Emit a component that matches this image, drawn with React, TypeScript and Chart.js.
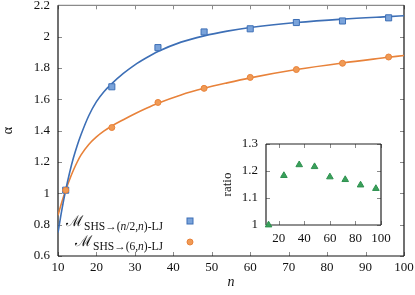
import React, { useEffect, useRef } from "react";
import { Chart, registerables } from "chart.js";

Chart.register(...registerables);

const FONT = "'Liberation Serif', 'Times New Roman', serif";

// Main plot data
const nValues = [12, 24, 36, 48, 60, 72, 84, 96];
const alphaHalfN = [1.02, 1.68, 1.93, 2.03, 2.05, 2.09, 2.1, 2.12];
const alphaSixN = [1.02, 1.42, 1.58, 1.67, 1.74, 1.79, 1.83, 1.87];

// Fitted curves
const fitN = [10, 11, 12, 13, 14, 15, 16, 18, 20, 22, 24, 27, 30, 33, 36, 42, 48, 54, 60, 72, 84, 96, 100];
const fitHalfN = [0.75, 0.895, 1.02, 1.13, 1.225, 1.305, 1.375, 1.495, 1.585, 1.65, 1.7, 1.765, 1.82, 1.865, 1.905, 1.965, 2.005, 2.035, 2.058, 2.09, 2.112, 2.128, 2.133];
const fitSixN = [0.86, 0.945, 1.02, 1.087, 1.147, 1.2, 1.245, 1.312, 1.36, 1.398, 1.43, 1.47, 1.508, 1.543, 1.575, 1.628, 1.67, 1.705, 1.737, 1.79, 1.832, 1.868, 1.88];

// Inset data
const ratioValues = [1.0, 1.183, 1.223, 1.216, 1.178, 1.168, 1.148, 1.135];

// Tick labels
const xTicksMain = [10, 20, 30, 40, 50, 60, 70, 80, 90, 100];
const yTicksMain = [0.6, 0.8, 1, 1.2, 1.4, 1.6, 1.8, 2, 2.2];
const xTicksInset = [20, 40, 60, 80, 100];
const yTicksInset = [1, 1.1, 1.2, 1.3];

// Axis titles & legend text
const xTitle = "n";
const yTitle = "α";
const insetYTitle = "ratio";
const legendHalf: [string, string][] = [["ℳ", "M"], ["SHS→(", "s"], ["n", "si"], ["/2,", "s"], ["n", "si"], [")-LJ", "s"]];
const legendSix: [string, string][] = [["ℳ", "M"], ["SHS→(6,", "s"], ["n", "si"], [")-LJ", "s"]];

const BLUE = "#3d6fb6";
const BLUE_FILL = "#7aa3da";
const ORANGE = "#e8823a";
const ORANGE_FILL = "#f09a55";
const GREEN = "#2e9150";
const GREEN_FILL = "#3aa05a";

function makeFrame(xt: number[], yt: number[], colors: { top: string; right: string; bottom: string; left: string }) {
  return {
    id: "frame",
    beforeDatasetsDraw(chart: any) {
      const { ctx, chartArea: a, scales } = chart;
      const sx = scales.x;
      const sy = scales.y;
      ctx.save();
      ctx.lineWidth = 1;
      ctx.strokeStyle = "#8a8a8a";
      ctx.beginPath();
      const L = 4;
      for (const v of xt) {
        const p = Math.round(sx.getPixelForValue(v)) + 0.5;
        ctx.moveTo(p, a.bottom);
        ctx.lineTo(p, a.bottom - L);
        ctx.moveTo(p, a.top);
        ctx.lineTo(p, a.top + L);
      }
      for (const v of yt) {
        const p = Math.round(sy.getPixelForValue(v)) + 0.5;
        ctx.moveTo(a.left, p);
        ctx.lineTo(a.left + L, p);
        ctx.moveTo(a.right, p);
        ctx.lineTo(a.right - L, p);
      }
      ctx.stroke();
      ctx.lineWidth = 1.2;
      const seg = (c: string, x1: number, y1: number, x2: number, y2: number) => {
        ctx.strokeStyle = c;
        ctx.beginPath();
        ctx.moveTo(x1, y1);
        ctx.lineTo(x2, y2);
        ctx.stroke();
      };
      seg(colors.top, a.left, a.top, a.right, a.top);
      seg(colors.bottom, a.left, a.bottom, a.right, a.bottom);
      seg(colors.left, a.left, a.top, a.left, a.bottom);
      seg(colors.right, a.right, a.top, a.right, a.bottom);
      ctx.restore();
    },
  };
}

function fontFor(kind: string) {
  if (kind === "M") return `15px 'DejaVu Serif', ${FONT}`;
  if (kind === "si") return `italic 11.5px ${FONT}`;
  return `11.5px ${FONT}`;
}

function drawLegendEntry(ctx: CanvasRenderingContext2D, parts: [string, string][], right: number, base: number) {
  let total = 0;
  const widths = parts.map(([t, k]) => {
    ctx.font = fontFor(k);
    const w = ctx.measureText(t).width + (k === "M" ? 1 : 0);
    total += w;
    return w;
  });
  let x = right - total;
  ctx.fillStyle = "#111";
  ctx.textBaseline = "alphabetic";
  ctx.textAlign = "left";
  parts.forEach(([t, k], i) => {
    ctx.font = fontFor(k);
    ctx.fillText(t, x, k === "M" ? base : base + 4);
    x += widths[i];
  });
}

const legendPlugin = {
  id: "mathLegend",
  afterDraw(chart: any) {
    const ctx: CanvasRenderingContext2D = chart.ctx;
    ctx.save();
    drawLegendEntry(ctx, legendHalf, 163, 226);
    drawLegendEntry(ctx, legendSix, 163, 246);
    // markers
    ctx.lineWidth = 1;
    ctx.fillStyle = BLUE_FILL;
    ctx.strokeStyle = BLUE;
    ctx.fillRect(187, 218, 6, 6);
    ctx.strokeRect(187, 218, 6, 6);
    ctx.fillStyle = ORANGE_FILL;
    ctx.strokeStyle = ORANGE;
    ctx.beginPath();
    ctx.arc(190, 242, 3, 0, Math.PI * 2);
    ctx.fill();
    ctx.stroke();
    ctx.restore();
  },
};

export default function App() {
  const mainRef = useRef<HTMLCanvasElement>(null);
  const insetRef = useRef<HTMLCanvasElement>(null);

  useEffect(() => {
    const tickFont = { family: FONT, size: 13 };
    const main = new Chart(mainRef.current as HTMLCanvasElement, {
      type: "scatter",
      data: {
        datasets: [
          {
            data: nValues.map((n, i) => ({ x: n, y: alphaSixN[i] })),
            pointStyle: "circle",
            pointRadius: 3,
            backgroundColor: ORANGE_FILL,
            borderColor: ORANGE,
            borderWidth: 1,
            order: 0,
          },
          {
            data: nValues.map((n, i) => ({ x: n, y: alphaHalfN[i] })),
            pointStyle: "rect",
            pointRadius: 4.3,
            backgroundColor: BLUE_FILL,
            borderColor: BLUE,
            borderWidth: 1,
            order: 1,
          },
          {
            data: fitN.map((n, i) => ({ x: n, y: fitHalfN[i] })),
            showLine: true,
            pointRadius: 0,
            borderColor: BLUE,
            borderWidth: 1.6,
            cubicInterpolationMode: "monotone",
            order: 2,
          },
          {
            data: fitN.map((n, i) => ({ x: n, y: fitSixN[i] })),
            showLine: true,
            pointRadius: 0,
            borderColor: ORANGE,
            borderWidth: 1.6,
            cubicInterpolationMode: "monotone",
            order: 2,
          },
        ],
      } as any,
      options: {
        responsive: false,
        animation: false,
        devicePixelRatio: 1,
        layout: { padding: { left: 0, top: 5, right: 11, bottom: 0 } },
        plugins: { legend: { display: false }, tooltip: { enabled: false } },
        scales: {
          x: {
            type: "linear",
            min: 10,
            max: 100,
            afterBuildTicks: (s: any) => {
              s.ticks = xTicksMain.map((v) => ({ value: v }));
            },
            afterFit: (s: any) => {
              s.height = 39;
              s.paddingLeft = 0;
              s.paddingRight = 0;
            },
            grid: { display: false, drawTicks: false },
            border: { display: false },
            ticks: { padding: 4, font: tickFont, color: "#111", maxRotation: 0, autoSkip: false, callback: (v: any) => String(v) },
            title: { display: true, text: xTitle, color: "#111", font: { family: FONT, size: 14, style: "italic" }, padding: { top: 0, bottom: 4 } },
          },
          y: {
            type: "linear",
            min: 0.6,
            max: 2.2,
            afterBuildTicks: (s: any) => {
              s.ticks = yTicksMain.map((v) => ({ value: v }));
            },
            afterFit: (s: any) => {
              s.width = 58;
              s.paddingTop = 0;
              s.paddingBottom = 0;
            },
            grid: { display: false, drawTicks: false },
            border: { display: false },
            ticks: { padding: 8, font: tickFont, color: "#111", autoSkip: false, callback: (v: any) => String(v) },
            title: { display: true, text: yTitle, color: "#111", font: { family: FONT, size: 14 }, padding: { top: 0, bottom: 0 } },
          },
        },
      } as any,
      plugins: [makeFrame(xTicksMain, yTicksMain, { top: "#8a8a8a", right: "#111", bottom: "#111", left: "#111" }), legendPlugin],
    });

    const inset = new Chart(insetRef.current as HTMLCanvasElement, {
      type: "scatter",
      data: {
        datasets: [
          {
            data: nValues.map((n, i) => ({ x: n, y: ratioValues[i] })),
            pointStyle: "triangle",
            pointRadius: 3.8,
            backgroundColor: GREEN_FILL,
            borderColor: GREEN,
            borderWidth: 1,
            clip: false,
          },
        ],
      } as any,
      options: {
        responsive: false,
        animation: false,
        devicePixelRatio: 1,
        layout: { padding: { left: 0, top: 8, right: 14, bottom: 0 } },
        plugins: { legend: { display: false }, tooltip: { enabled: false } },
        scales: {
          x: {
            type: "linear",
            min: 10,
            max: 100,
            afterBuildTicks: (s: any) => {
              s.ticks = xTicksInset.map((v) => ({ value: v }));
            },
            afterFit: (s: any) => {
              s.height = 19;
              s.paddingLeft = 0;
              s.paddingRight = 0;
            },
            grid: { display: false, drawTicks: false },
            border: { display: false },
            ticks: { padding: 6, font: tickFont, color: "#111", maxRotation: 0, autoSkip: false, callback: (v: any) => String(v) },
          },
          y: {
            type: "linear",
            min: 1,
            max: 1.3,
            afterBuildTicks: (s: any) => {
              s.ticks = yTicksInset.map((v) => ({ value: v }));
            },
            afterFit: (s: any) => {
              s.width = 46;
              s.paddingTop = 0;
              s.paddingBottom = 0;
            },
            grid: { display: false, drawTicks: false },
            border: { display: false },
            ticks: { padding: 8, font: tickFont, color: "#111", autoSkip: false, callback: (v: any) => String(v) },
            title: { display: true, text: insetYTitle, color: "#111", font: { family: FONT, size: 13 }, padding: { top: 0, bottom: 0 } },
          },
        },
      } as any,
      plugins: [
        {
          id: "whiteBg",
          beforeDraw(chart: any) {
            const { ctx, chartArea: a } = chart;
            ctx.save();
            ctx.fillStyle = "#fff";
            ctx.fillRect(a.left, a.top, a.right - a.left, a.bottom - a.top);
            ctx.restore();
          },
        },
        makeFrame(xTicksInset, yTicksInset, { top: "#222", right: "#222", bottom: "#222", left: "#222" }),
      ],
    });

    return () => {
      main.destroy();
      inset.destroy();
    };
  }, []);

  return (
    <div style={{ position: "fixed", left: 0, top: 0, width: 415, height: 295, background: "#fff" }}>
      <canvas ref={mainRef} width={415} height={295} style={{ position: "absolute", left: 0, top: 0, width: 415, height: 295 }} />
      <canvas ref={insetRef} width={175} height={108} style={{ position: "absolute", left: 220, top: 136, width: 175, height: 108 }} />
    </div>
  );
}
